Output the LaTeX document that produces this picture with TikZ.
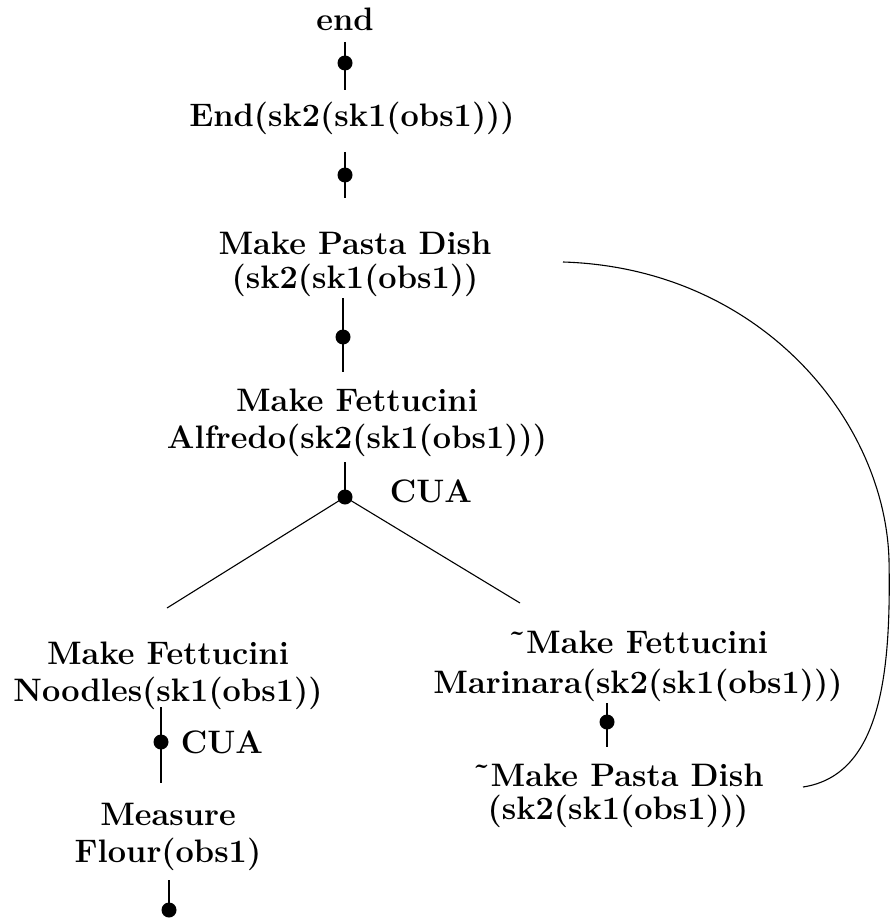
\documentclass[tikz,border=0pt]{standalone}
\begin{document}
\begin{tikzpicture}[x=1pt,y=-1pt,
  lbl/.style={font=\bfseries\fontsize{32.5}{37}\selectfont, align=center, inner sep=0pt},
  dotn/.style={circle, fill=black, inner sep=0pt, minimum size=15pt},
  ln/.style={line width=1.1pt}]
\useasboundingbox (0,0) rectangle (891,920);
% text nodes
\node[lbl] (end) at (345,19) {end};
\node[lbl] (End) at (352,118) {End(sk2(sk1(obs1)))};
\node[lbl] (mpd) at (355,264) {Make Pasta Dish\\[-3pt](sk2(sk1(obs1))};
\node[lbl] (mfa) at (357,423) {Make Fettucini\\Alfredo(sk2(sk1(obs1)))};
\node[lbl] (cua1) at (431,491) {CUA};
\node[lbl] (mfn) at (168,676) {Make Fettucini\\Noodles(sk1(obs1))};
\node[lbl] (cua2) at (222,742) {CUA};
\node[lbl] (mf) at (168,837) {Measure\\Flour(obs1)};
\node[lbl] (nmfm) at (638,666) {\char"02DC Make Fettucini\\[3pt]Marinara(sk2(sk1(obs1)))};
\node[lbl] (nmpd) at (618,796) {\char"02DC Make Pasta Dish\\[-4pt](sk2(sk1(obs1)))};
% connector end points
\coordinate (a1) at (345,42);  \coordinate (b1) at (345,90);
\coordinate (a2) at (345,152); \coordinate (b2) at (345,198);
\coordinate (a3) at (343,298); \coordinate (b3) at (343,372);
\coordinate (a4) at (345,462);
\coordinate (lb) at (167,608); \coordinate (rb) at (520,603);
\coordinate (a5) at (161,707); \coordinate (b5) at (161,783);
\coordinate (a6) at (169,880);
\coordinate (a7) at (607,703); \coordinate (b7) at (607,747);
\coordinate (ca) at (563,262); \coordinate (cm) at (889,560); \coordinate (cb) at (803,787);
% dots
\node[dotn] (d1) at (345,63) {};
\node[dotn] (d2) at (345,175) {};
\node[dotn] (d3) at (343,337) {};
\node[dotn] (d4) at (345,497) {};
\node[dotn] (d5) at (161,742) {};
\node[dotn] (d6) at (169,910) {};
\node[dotn] (d7) at (607,722) {};
% lines
\draw[ln] (a1) -- (b1);
\draw[ln] (a2) -- (b2);
\draw[ln] (a3) -- (b3);
\draw[ln] (a4) -- (d4.center);
\draw[ln] (lb) -- (d4.center) -- (rb);
\draw[ln] (a5) -- (b5);
\draw[ln] (a6) -- (d6.center);
\draw[ln] (a7) -- (b7);
\draw[ln] (ca) .. controls (760,268) and (885,420) .. (cm) .. controls (891,670) and (882,775) .. (cb);
\end{tikzpicture}
\end{document}
